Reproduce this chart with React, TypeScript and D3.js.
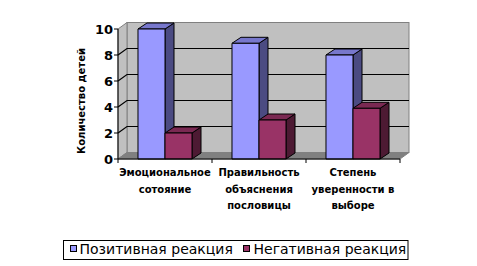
import React from "react";
import * as d3 from "d3";

const categories = [
  ["Эмоциональное", "сотояние"],
  ["Правильность", "объяснения", "пословицы"],
  ["Степень", "уверенности в", "выборе"],
];
const seriesNames = ["Позитивная реакция", "Негативная реакция"];
const positive = [10, 8.9, 8];
const negative = [2, 3, 3.9];
const yTicks = [0, 2, 4, 6, 8, 10];
const yTitle = "Количество детей";

const colors = [
  { front: "#9999ff", top: "#7777cc", side: "#4b4b82" },
  { front: "#993366", top: "#7a2952", side: "#4d1a33" },
];

export default function App() {
  const W = 477, H = 266;
  const x0 = 118, x1 = 400;
  const DX = 9, DY = -6.5;
  const BDX = 9, BDY = -6;
  const y = d3.scaleLinear().domain([0, 10]).range([159, 29]);
  const xb = d3.scaleBand<number>().domain([0, 1, 2]).range([x0, x1]);
  const xs = d3.scaleBand<number>().domain([0, 1]).range([0, xb.bandwidth()]).paddingOuter(0.74);
  const series = [positive, negative];
  const font = "DejaVu Sans, Verdana, sans-serif";

  const wallTop = y(10) + DY;
  const floorBack = y(0) + DY;

  const bars: React.ReactNode[] = [];
  categories.forEach((_, ci) => {
    series.forEach((vals, si) => {
      const v = vals[ci];
      const bx = (xb(ci) as number) + (xs(si) as number);
      const bw = xs.bandwidth();
      const ty = y(v), by = y(0);
      const c = colors[si];
      bars.push(
        <g key={`${ci}-${si}`} stroke="#000" strokeWidth={1} strokeLinejoin="round">
          <path d={`M${bx + bw},${by}L${bx + bw + BDX},${by + BDY}L${bx + bw + BDX},${ty + BDY}L${bx + bw},${ty}Z`} fill={c.side} />
          <path d={`M${bx},${ty}L${bx + BDX},${ty + BDY}L${bx + bw + BDX},${ty + BDY}L${bx + bw},${ty}Z`} fill={c.top} />
          <rect x={bx} y={ty} width={bw} height={by - ty} fill={c.front} />
        </g>
      );
    });
  });

  return (
    <div style={{ position: "fixed", left: 0, top: 0 }}>
      <svg width={W} height={H} style={{ display: "block", background: "#fff" }}>
        {/* back wall */}
        <rect x={x0 + DX} y={wallTop} width={x1 - x0} height={floorBack - wallTop} fill="#c0c0c0" stroke="#808080" strokeWidth={1} />
        {/* left wall */}
        <path d={`M${x0},${y(10)}L${x0 + DX},${wallTop}L${x0 + DX},${floorBack}L${x0},${y(0)}Z`} fill="#c0c0c0" stroke="#808080" strokeWidth={1} />
        {/* floor */}
        <path d={`M${x0},${y(0)}L${x0 + DX},${floorBack}L${x1 + DX},${floorBack}L${x1},${y(0)}Z`} fill="#808080" stroke="#808080" strokeWidth={1} />
        {/* gridlines */}
        {yTicks.filter((t) => t > 0 && t < 10).map((t) => (
          <path key={t} d={`M${x0},${y(t)}L${x0 + DX},${y(t) + DY}L${x1 + DX},${y(t) + DY}`} fill="none" stroke="#000" strokeWidth={1.2} />
        ))}
        {bars}
        {/* axes */}
        <line x1={x0} y1={y(0)} x2={x0} y2={y(10)} stroke="#000" strokeWidth={1} />
        <line x1={x0} y1={y(0)} x2={x1} y2={y(0)} stroke="#000" strokeWidth={1} />
        {yTicks.map((t) => (
          <g key={t}>
            <line x1={x0 - 4} x2={x0} y1={y(t)} y2={y(t)} stroke="#000" />
            <text x={x0 - 5} y={y(t)} dy="0.36em" textAnchor="end" fontFamily={font} fontWeight="bold" fontSize={13}>{t}</text>
          </g>
        ))}
        {[0, 1, 2, 3].map((i) => {
          const xx = i < 3 ? (xb(i) as number) : x1;
          return <line key={i} x1={xx} x2={xx} y1={y(0)} y2={y(0) + 4} stroke="#000" />;
        })}
        {categories.map((lines, ci) => (
          <text key={ci} textAnchor="middle" fontFamily={font} fontWeight="bold" fontSize={10}>
            {lines.map((l, li) => (
              <tspan key={li} x={(xb(ci) as number) + xb.bandwidth() / 2} y={176 + li * 16.7}>{l}</tspan>
            ))}
          </text>
        ))}
        <text transform="translate(85,101) rotate(-90)" textAnchor="middle" fontFamily={font} fontWeight="bold" fontSize={10}>{yTitle}</text>
        {/* legend */}
        <rect x={63.5} y={240.5} width={344.5} height={19} fill="#fff" stroke="#000" />
        <rect x={70.5} y={245.5} width={6} height={6} fill={colors[0].front} stroke="#000" />
        <text x={79.5} y={253.5} fontFamily={font} fontSize={14}>{seriesNames[0]}</text>
        <rect x={243.5} y={245.5} width={6} height={6} fill={colors[1].front} stroke="#000" />
        <text x={253.5} y={253.5} fontFamily={font} fontSize={14}>{seriesNames[1]}</text>
      </svg>
    </div>
  );
}
